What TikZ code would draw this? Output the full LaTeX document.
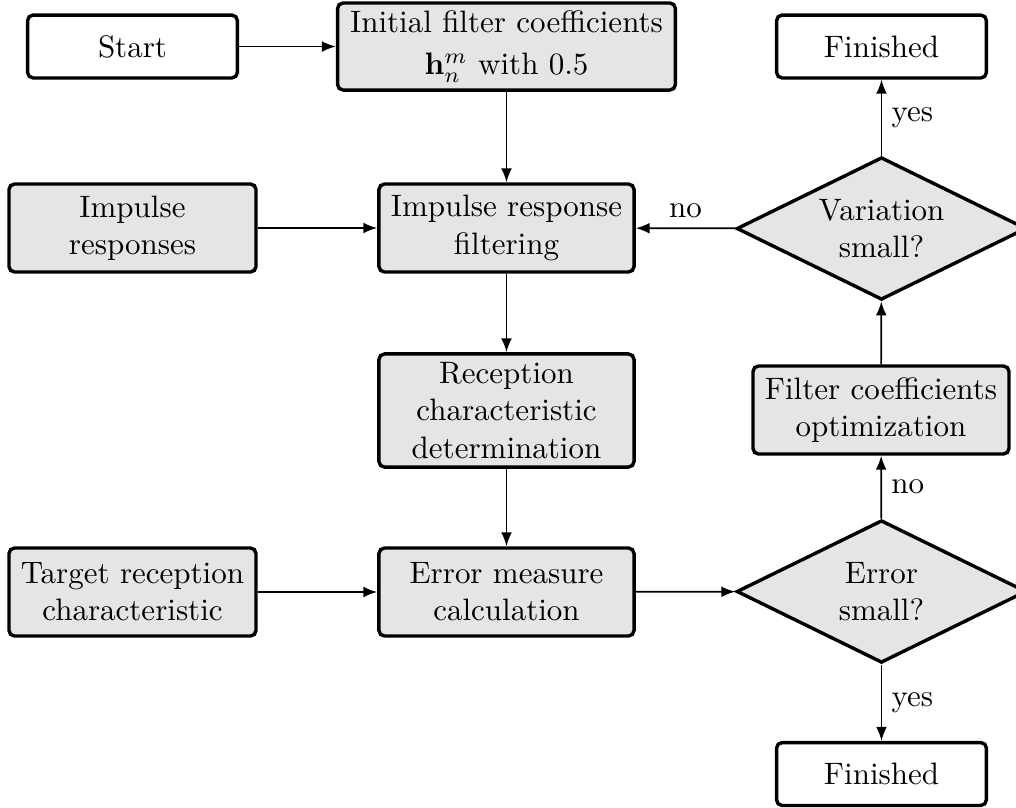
\documentclass[tikz,border=0pt]{standalone}
\usetikzlibrary{shapes.geometric,arrows.meta}
\begin{document}
\begin{tikzpicture}[x=0.3226pt,y=-0.3226pt,
  base/.style={draw,line width=1.1pt,align=center,inner sep=0pt},
  wbox/.style={base,rounded corners=1.8pt,minimum width=67.7pt,minimum height=20.3pt},
  gbox/.style={base,rounded corners=1.8pt,fill=gray!20},
  dec/.style={base,shape=diamond,fill=gray!20,aspect=2,minimum width=93.5pt,minimum height=46pt},
  arr/.style={-{Latex[length=4.5pt,width=3.5pt]},line width=0.55pt},
  lab/.style={inner sep=3pt}]
\useasboundingbox (0,0) rectangle (1016,807);
\begin{scope}
\clip (0,0) rectangle (1016,807);
\node[wbox] (start) at (132.5,46.5) {Start};
\node[gbox,minimum width=109pt,minimum height=28.1pt] (init) at (506.5,46.5) {Initial filter coefficients\\[1.5pt]$\mathbf{h}_n^m$ with 0.5};
\node[wbox] (fin1) at (881.5,46.5) {Finished};
\node[gbox,minimum width=79.7pt,minimum height=28.4pt] (ir) at (132.5,228) {Impulse\\responses};
\node[gbox,minimum width=82.3pt,minimum height=28.4pt] (irf) at (506.5,228) {Impulse response\\filtering};
\node[dec] (var) at (881.5,228.5) {Variation\\small?};
\node[gbox,minimum width=82.3pt,minimum height=36.5pt] (rec) at (506.5,410.5) {Reception\\characteristic\\determination};
\node[gbox,minimum width=82.6pt,minimum height=28.4pt] (opt) at (881,410) {Filter coefficients\\optimization};
\node[gbox,minimum width=79.7pt,minimum height=28.4pt] (tgt) at (132.5,592) {Target reception\\characteristic};
\node[gbox,minimum width=82.3pt,minimum height=28.4pt] (err) at (506.5,592) {Error measure\\calculation};
\node[dec] (edec) at (881.5,591.5) {Error\\small?};
\node[wbox] (fin2) at (881.5,774) {Finished};

\draw[arr] (start) -- (init);
\draw[arr] (init) -- (irf);
\draw[arr] (ir) -- (irf);
\draw[arr] (var) -- node[above,lab]{no} (irf);
\draw[arr] (irf) -- (rec);
\draw[arr] (rec) -- (err);
\draw[arr] (tgt) -- (err);
\draw[arr] (err) -- (edec);
\draw[arr] (edec) -- node[right,lab]{yes} (fin2);
\draw[arr] (edec) -- node[right,lab]{no} (opt);
\draw[arr] (opt) -- (var);
\draw[arr] (var) -- node[right,lab]{yes} (fin1);
\end{scope}
\end{tikzpicture}
\end{document}
